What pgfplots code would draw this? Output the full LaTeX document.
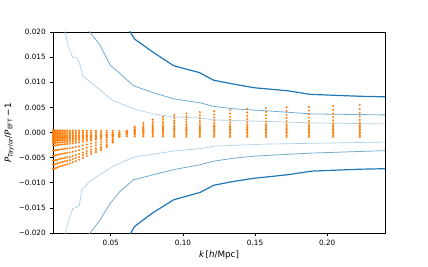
\documentclass[border=0pt]{standalone}
\usepackage{fontspec}
\setmainfont{DejaVu Sans}
\usepackage{pgfplots}
\usepackage{pgfplotstable}
\pgfplotsset{compat=1.18}
\definecolor{mblue}{HTML}{1F77B4}
\definecolor{morange}{HTML}{FF7F0E}
\pgfplotstableread{
k c1 c2 c3 c4 c5 c6 c7 c8 c9 c10 c11 c12 c13 c14 c15
0.0100 0.00040 0.00010 -0.00020 -0.00050 -0.00080 -0.00110 -0.00140 -0.00170 -0.00210 -0.00260 -0.00360 -0.00460 -0.00560 -0.00640 -0.00720
0.0109 0.00040 0.00010 -0.00020 -0.00050 -0.00080 -0.00110 -0.00140 -0.00170 -0.00210 -0.00260 -0.00360 -0.00460 -0.00560 -0.00640 -0.00720
0.0119 0.00040 0.00010 -0.00020 -0.00050 -0.00079 -0.00108 -0.00138 -0.00167 -0.00206 -0.00256 -0.00354 -0.00452 -0.00551 -0.00629 -0.00707
0.0130 0.00040 0.00009 -0.00021 -0.00051 -0.00078 -0.00107 -0.00135 -0.00164 -0.00203 -0.00251 -0.00348 -0.00444 -0.00541 -0.00618 -0.00695
0.0141 0.00040 0.00009 -0.00021 -0.00051 -0.00078 -0.00105 -0.00133 -0.00161 -0.00199 -0.00247 -0.00342 -0.00437 -0.00532 -0.00607 -0.00682
0.0154 0.00040 0.00009 -0.00022 -0.00052 -0.00077 -0.00103 -0.00131 -0.00158 -0.00196 -0.00242 -0.00336 -0.00429 -0.00522 -0.00596 -0.00669
0.0168 0.00040 0.00009 -0.00022 -0.00052 -0.00076 -0.00102 -0.00129 -0.00156 -0.00192 -0.00238 -0.00330 -0.00421 -0.00513 -0.00585 -0.00657
0.0183 0.00039 0.00008 -0.00022 -0.00052 -0.00075 -0.00100 -0.00126 -0.00153 -0.00188 -0.00233 -0.00323 -0.00413 -0.00503 -0.00573 -0.00644
0.0199 0.00039 0.00008 -0.00023 -0.00053 -0.00074 -0.00098 -0.00124 -0.00150 -0.00185 -0.00229 -0.00317 -0.00405 -0.00494 -0.00562 -0.00631
0.0217 0.00039 0.00008 -0.00023 -0.00053 -0.00074 -0.00096 -0.00122 -0.00147 -0.00181 -0.00224 -0.00311 -0.00398 -0.00484 -0.00551 -0.00618
0.0237 0.00039 0.00007 -0.00024 -0.00054 -0.00072 -0.00093 -0.00117 -0.00141 -0.00174 -0.00215 -0.00299 -0.00382 -0.00465 -0.00529 -0.00593
0.0258 0.00039 0.00006 -0.00025 -0.00055 -0.00070 -0.00090 -0.00112 -0.00135 -0.00167 -0.00206 -0.00287 -0.00366 -0.00446 -0.00507 -0.00568
0.0281 0.00039 0.00006 -0.00026 -0.00056 -0.00069 -0.00086 -0.00108 -0.00129 -0.00160 -0.00197 -0.00275 -0.00351 -0.00427 -0.00485 -0.00542
0.0307 0.00038 0.00005 -0.00027 -0.00057 -0.00066 -0.00081 -0.00101 -0.00121 -0.00149 -0.00184 -0.00256 -0.00327 -0.00399 -0.00451 -0.00504
0.0334 0.00038 0.00004 -0.00028 -0.00058 -0.00064 -0.00076 -0.00094 -0.00112 -0.00138 -0.00170 -0.00238 -0.00304 -0.00370 -0.00418 -0.00466
0.0364 0.00038 0.00003 -0.00029 -0.00059 -0.00062 -0.00071 -0.00087 -0.00103 -0.00127 -0.00157 -0.00220 -0.00281 -0.00342 -0.00385 -0.00428
0.0397 0.00037 0.00002 -0.00030 -0.00060 -0.00059 -0.00066 -0.00080 -0.00095 -0.00116 -0.00143 -0.00201 -0.00257 -0.00313 -0.00351 -0.00390
0.0433 0.00037 0.00001 -0.00032 -0.00062 -0.00057 -0.00061 -0.00073 -0.00086 -0.00106 -0.00130 -0.00183 -0.00234 -0.00285 -0.00318 -0.00352
0.0472 0.00037 0.00000 -0.00034 -0.00064 -0.00053 -0.00052 -0.00062 -0.00071 -0.00088 -0.00107 -0.00153 -0.00195 -0.00237 -0.00263 -0.00288
0.0514 0.00036 -0.00002 -0.00036 -0.00066 -0.00047 -0.00040 -0.00046 -0.00051 -0.00062 -0.00076 -0.00110 -0.00140 -0.00171 -0.00185 -0.00199
0.0560 0.00035 -0.00005 -0.00040 -0.00070 -0.00040 -0.00025 -0.00025 -0.00025 -0.00030 -0.00035 -0.00055 -0.00070 -0.00085 -0.00085 -0.00085
0.0611 0.00034 -0.00008 -0.00044 -0.00074 -0.00033 -0.00010 -0.00004 0.00001 0.00002 0.00006 0.00000 0.00000 0.00001 0.00015 0.00029
0.0666 0.00033 -0.00010 -0.00046 -0.00076 -0.00027 0.00002 0.00012 0.00021 0.00028 0.00037 0.00043 0.00055 0.00067 0.00093 0.00118
0.0726 0.00033 -0.00012 -0.00049 -0.00079 -0.00022 0.00012 0.00026 0.00039 0.00049 0.00064 0.00079 0.00102 0.00124 0.00159 0.00194
0.0791 0.00032 -0.00013 -0.00051 -0.00081 -0.00018 0.00021 0.00037 0.00053 0.00067 0.00087 0.00110 0.00141 0.00172 0.00215 0.00258
0.0862 0.00032 -0.00014 -0.00052 -0.00082 -0.00015 0.00028 0.00046 0.00065 0.00082 0.00105 0.00134 0.00172 0.00210 0.00259 0.00309
0.0940 0.00032 -0.00015 -0.00054 -0.00084 -0.00013 0.00033 0.00053 0.00074 0.00092 0.00118 0.00152 0.00195 0.00238 0.00292 0.00347
0.1024 0.00031 -0.00016 -0.00055 -0.00085 -0.00011 0.00037 0.00059 0.00081 0.00101 0.00129 0.00168 0.00215 0.00262 0.00320 0.00379
0.1117 0.00031 -0.00017 -0.00055 -0.00085 -0.00009 0.00040 0.00064 0.00087 0.00109 0.00138 0.00180 0.00230 0.00281 0.00342 0.00404
0.1217 0.00031 -0.00017 -0.00056 -0.00086 -0.00008 0.00043 0.00067 0.00091 0.00114 0.00145 0.00189 0.00242 0.00295 0.00359 0.00423
0.1327 0.00031 -0.00018 -0.00057 -0.00087 -0.00006 0.00046 0.00072 0.00097 0.00121 0.00154 0.00201 0.00258 0.00314 0.00381 0.00448
0.1446 0.00031 -0.00018 -0.00057 -0.00087 -0.00005 0.00049 0.00075 0.00101 0.00127 0.00161 0.00210 0.00269 0.00328 0.00398 0.00467
0.1576 0.00031 -0.00019 -0.00058 -0.00088 -0.00004 0.00052 0.00079 0.00106 0.00132 0.00168 0.00220 0.00281 0.00343 0.00415 0.00487
0.1718 0.00030 -0.00019 -0.00058 -0.00088 -0.00003 0.00053 0.00081 0.00108 0.00136 0.00172 0.00226 0.00289 0.00352 0.00426 0.00500
0.1873 0.00030 -0.00019 -0.00059 -0.00089 -0.00002 0.00055 0.00083 0.00111 0.00139 0.00177 0.00232 0.00297 0.00362 0.00437 0.00512
0.2041 0.00030 -0.00020 -0.00059 -0.00089 -0.00001 0.00057 0.00087 0.00116 0.00145 0.00183 0.00241 0.00308 0.00376 0.00453 0.00531
0.2225 0.00030 -0.00020 -0.00060 -0.00090 0.00000 0.00060 0.00090 0.00120 0.00150 0.00190 0.00250 0.00320 0.00390 0.00470 0.00550
}\scatterdata
\begin{document}
\begin{tikzpicture}
\begin{axis}[
  at={(0,0)}, anchor=south west,
  scale only axis, width=332bp, height=201bp,
  xmin=0.01, xmax=0.24, ymin=-0.02, ymax=0.02,
  scaled x ticks=false, scaled y ticks=false,
  axis line style={black, line width=0.7bp},
  tick style={black, line width=0.6bp},
  tick align=outside, major tick length=3.3bp,
  xtick pos=bottom, ytick pos=left,
  xtick={0.05,0.10,0.15,0.20},
  xticklabels={0.05,0.10,0.15,0.20},
  ytick={-0.02,-0.015,-0.01,-0.005,0,0.005,0.01,0.015,0.02},
  yticklabels={−0.020,−0.015,−0.010,−0.005,0.000,0.005,0.010,0.015,0.020},
  ticklabel style={font=\fontsize{7.3}{8}\selectfont},
  xticklabel style={yshift=-0.5bp},
  yticklabel style={xshift=-0.5bp},
  xlabel={{\itshape k}\,[{\itshape h}/Mpc]},
  ylabel={{\itshape P}\textsubscript{\itshape Taylor}/{\itshape P}\textsubscript{EFT}\,−\,1},
  label style={font=\fontsize{8.8}{10}\selectfont},
  xlabel style={yshift=2bp},
  ylabel style={yshift=-2bp},
  clip=true,
]
% outer (dark)
\addplot[mblue, line width=1.2bp] coordinates {
(0.0620,0.0215)(0.0635,0.0200)(0.0665,0.0186)(0.0797,0.0159)(0.0935,0.0133)(0.1116,0.0119)(0.1213,0.0104)(0.1357,0.0096)(0.1496,0.0089)(0.1727,0.0083)(0.1878,0.0076)(0.2051,0.0074)(0.2237,0.0072)(0.2406,0.0071)};
\addplot[mblue, line width=1.2bp] coordinates {
(0.0620,-0.0215)(0.0635,-0.0202)(0.0665,-0.0187)(0.0785,-0.0161)(0.0935,-0.0134)(0.1121,-0.0119)(0.1213,-0.0105)(0.1357,-0.0097)(0.1496,-0.0091)(0.1727,-0.0084)(0.1889,-0.0077)(0.2051,-0.0075)(0.2237,-0.0073)(0.2406,-0.0072)};
% middle
\addplot[mblue!62!white, line width=0.8bp] coordinates {
(0.0345,0.0215)(0.0352,0.0201)(0.0426,0.0174)(0.0496,0.0134)(0.0577,0.0114)(0.0658,0.0093)(0.0797,0.0079)(0.0935,0.0067)(0.1121,0.0059)(0.1213,0.0052)(0.1357,0.0047)(0.1588,0.0043)(0.1889,0.0037)(0.2406,0.0035)};
\addplot[mblue!62!white, line width=0.8bp] coordinates {
(0.0345,-0.0215)(0.0352,-0.0202)(0.0426,-0.0174)(0.0496,-0.0141)(0.0565,-0.0117)(0.0658,-0.0094)(0.0797,-0.0084)(0.0935,-0.0074)(0.1121,-0.0064)(0.1213,-0.0057)(0.1357,-0.0051)(0.1496,-0.0047)(0.1889,-0.0041)(0.2406,-0.0036)};
% inner (light)
\addplot[mblue!35!white, line width=0.7bp] coordinates {
(0.0180,0.0215)(0.0183,0.0201)(0.0206,0.0171)(0.0237,0.0149)(0.0265,0.0149)(0.0288,0.0134)(0.0306,0.0112)(0.0357,0.0101)(0.0426,0.0085)(0.0507,0.0065)(0.0658,0.0047)(0.0797,0.0037)(0.0935,0.0031)(0.1121,0.0029)(0.1213,0.0025)(0.1588,0.0022)(0.1913,0.0019)(0.2406,0.0017)};
\addplot[mblue!35!white, line width=0.7bp] coordinates {
(0.0180,-0.0215)(0.0183,-0.0202)(0.0213,-0.0171)(0.0237,-0.0151)(0.0265,-0.0149)(0.0283,-0.0144)(0.0299,-0.0114)(0.0357,-0.0097)(0.0426,-0.0084)(0.0519,-0.0067)(0.0658,-0.0049)(0.0935,-0.0037)(0.1121,-0.0032)(0.1218,-0.0027)(0.1588,-0.0023)(0.2406,-0.0019)};
% scatter
\pgfplotsinvokeforeach{1,...,15}{
  \addplot[morange, only marks, mark=*, mark size=0.8bp, mark options={solid, draw=none, fill=morange}] table[x=k, y=c#1] {\scatterdata};
}
\end{axis}
\pgfresetboundingbox
\path (-53bp,-34bp) rectangle (375bp,233bp);
\end{tikzpicture}
\end{document}
